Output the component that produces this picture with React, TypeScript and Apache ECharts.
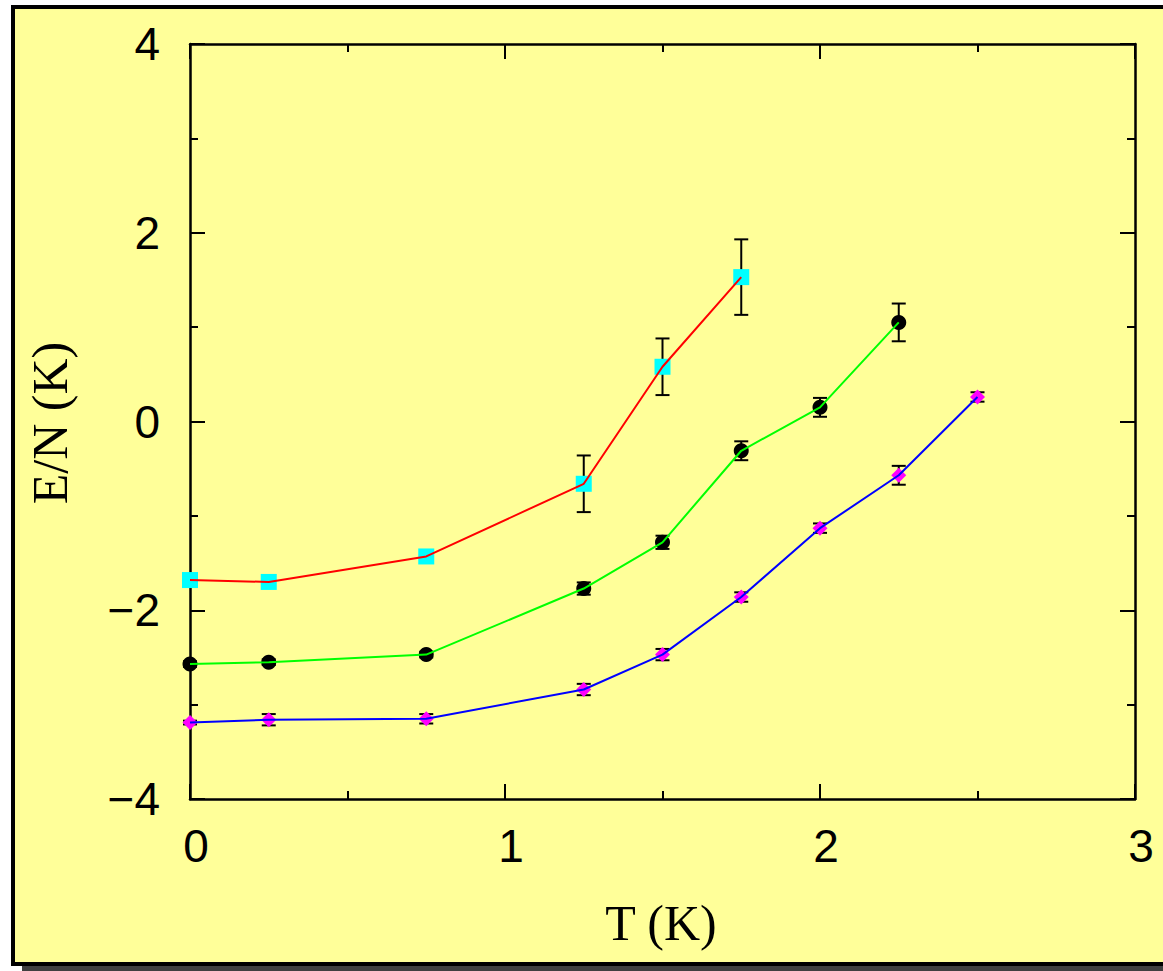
import React, { useEffect, useRef } from "react";
import * as echarts from "echarts";

// Data
const redT = [0, 0.25, 0.75, 1.25, 1.5, 1.75];
const redE = [-1.68, -1.7, -1.43, -0.66, 0.58, 1.53];
const redErr = [0.02, 0.02, 0.02, 0.3, 0.3, 0.4];

const greenT = [0, 0.25, 0.75, 1.25, 1.5, 1.75, 2.0, 2.25];
const greenE = [-2.57, -2.55, -2.47, -1.77, -1.28, -0.31, 0.15, 1.05];
const greenErr = [0.03, 0.03, 0.03, 0.065, 0.07, 0.1, 0.1, 0.2];

const blueT = [0, 0.25, 0.75, 1.25, 1.5, 1.75, 2.0, 2.25, 2.5];
const blueE = [-3.19, -3.16, -3.15, -2.84, -2.47, -1.86, -1.13, -0.57, 0.26];
const blueErr = [0.02, 0.06, 0.05, 0.06, 0.06, 0.05, 0.05, 0.1, 0.05];

const xTitle = "T (K)";
const yTitle = "E/N (K)";

const pts = (t: number[], e: number[]) => t.map((x, i) => [x, e[i]]);
const errs = (t: number[], e: number[], d: number[]) =>
  t.map((x, i) => [x, e[i] - d[i], e[i] + d[i]]);

const fmt = (v: number) => (v < 0 ? "\u2212" + Math.abs(v) : String(v));

export default function App() {
  const ref = useRef<HTMLDivElement>(null);
  useEffect(() => {
    if (!ref.current) return;
    const chart = echarts.init(ref.current, undefined, { renderer: "svg" });

    const errorSeries = (data: number[][]) => ({
      type: "custom",
      z: 1,
      clip: false,
      renderItem: (params: any, api: any) => {
        const x = api.value(0);
        const lo = api.coord([x, api.value(1)]);
        const hi = api.coord([x, api.value(2)]);
        const hw = 7;
        const style = { stroke: "#000", lineWidth: 2 };
        return {
          type: "group",
          children: [
            { type: "line", shape: { x1: lo[0], y1: lo[1], x2: hi[0], y2: hi[1] }, style },
            { type: "line", shape: { x1: lo[0] - hw, y1: lo[1], x2: lo[0] + hw, y2: lo[1] }, style },
            { type: "line", shape: { x1: hi[0] - hw, y1: hi[1], x2: hi[0] + hw, y2: hi[1] }, style },
          ],
        };
      },
      encode: { x: 0, y: [1, 2] },
      data,
    });

    const scatter = (data: number[][], symbol: string, size: number, color: string) => ({
      type: "scatter",
      z: 3,
      clip: false,
      symbol,
      symbolSize: size,
      itemStyle: { color, opacity: 1 },
      data,
    });

    const line = (data: number[][], color: string) => ({
      type: "line",
      z: 4,
      clip: false,
      showSymbol: false,
      symbol: "none",
      lineStyle: { color, width: 2 },
      data,
    });

    const axisLine = { show: true, onZero: false, lineStyle: { color: "#000", width: 2.5 } };
    const tick = { show: true, inside: true, length: 15, lineStyle: { color: "#000", width: 2 } };
    const minor = { show: true, splitNumber: 2, length: 8, lineStyle: { color: "#000", width: 2 } };
    const label = {
      fontSize: 46,
      fontFamily: "Liberation Sans, Arial, sans-serif",
      color: "#000",
      formatter: fmt,
    };

    chart.setOption({
      animation: false,
      backgroundColor: "#ffffff",
      grid: { left: 190, top: 44, width: 945, height: 755, containLabel: false },
      xAxis: [
        {
          type: "value", min: 0, max: 3, interval: 1, position: "bottom",
          axisLine, axisTick: tick, minorTick: minor, splitLine: { show: false },
          axisLabel: { ...label, margin: 24, padding: [0, 0, 0, 12] },
        },
        {
          type: "value", min: 0, max: 3, interval: 1, position: "top",
          axisLine, axisTick: tick, minorTick: minor, splitLine: { show: false },
          axisLabel: { show: false },
        },
      ],
      yAxis: [
        {
          type: "value", min: -4, max: 4, interval: 2, position: "left",
          axisLine, axisTick: tick, minorTick: minor, splitLine: { show: false },
          axisLabel: { ...label, margin: 30 },
        },
        {
          type: "value", min: -4, max: 4, interval: 2, position: "right",
          axisLine, axisTick: tick, minorTick: minor, splitLine: { show: false },
          axisLabel: { show: false },
        },
      ],
      graphic: [
        {
          type: "rect", z: -10, silent: true,
          shape: { x: 22, y: 12, width: 1300, height: 959 },
          style: { fill: "#404040" },
        },
        {
          type: "rect", z: -9, silent: true,
          shape: { x: 13, y: 7, width: 1300, height: 957 },
          style: { fill: "#ffff99", stroke: "#000", lineWidth: 4 },
        },
        {
          type: "text", z: 10, x: 661, y: 923,
          style: {
            text: xTitle, fontSize: 50, fontFamily: "Liberation Serif, Times New Roman, serif",
            fill: "#000", align: "center", verticalAlign: "middle",
          },
        },
        {
          type: "text", z: 10, x: 50, y: 423, rotation: Math.PI / 2,
          style: {
            text: yTitle, fontSize: 50, fontFamily: "Liberation Serif, Times New Roman, serif",
            fill: "#000", align: "center", verticalAlign: "middle",
          },
        },
      ],
      series: [
        errorSeries(errs(redT, redE, redErr)),
        errorSeries(errs(greenT, greenE, greenErr)),
        errorSeries(errs(blueT, blueE, blueErr)),
        scatter(pts(redT, redE), "rect", 16, "#00ffff"),
        scatter(pts(greenT, greenE), "circle", 15, "#000000"),
        scatter(pts(blueT, blueE), "diamond", 15, "#ff00ff"),
        line(pts(redT, redE), "#ff0000"),
        line(pts(greenT, greenE), "#00ff00"),
        line(pts(blueT, blueE), "#0000ff"),
      ],
    });
    return () => chart.dispose();
  }, []);
  return (
    <div
      ref={ref}
      style={{ position: "absolute", left: 0, top: 0, width: 1163, height: 971 }}
    />
  );
}
